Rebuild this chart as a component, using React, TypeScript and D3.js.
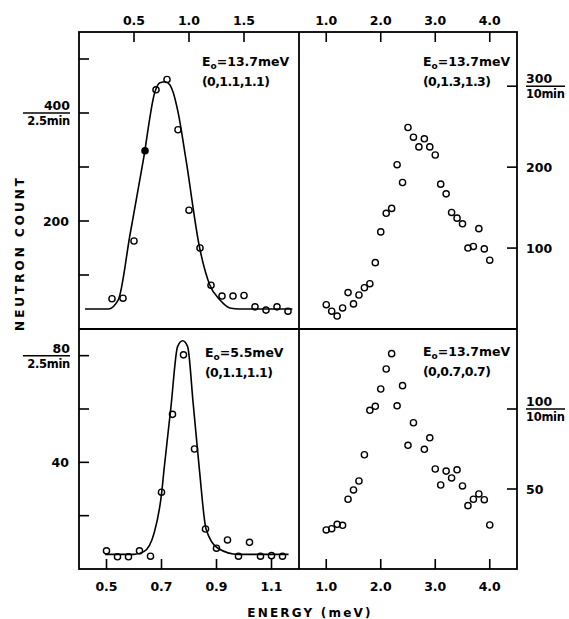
import React from 'react';
import * as d3 from 'd3';

// ---------- data ----------
// top-left: E0=13.7 meV (0,1.1,1.1), counts per 2.5 min
const tlEnergy = [0.3, 0.4, 0.5, 0.6, 0.7, 0.8, 0.9, 1.0, 1.1, 1.2, 1.3, 1.4, 1.5, 1.6, 1.7, 1.8, 1.9];
const tlCount = [56, 57, 163, 330, 443, 462, 369, 220, 150, 81, 61, 61, 62, 41, 35, 41, 33];
const tlFilled = [0.6];
const tlFitEnergy = [0.055, 0.266, 0.357, 0.464, 0.585, 0.69, 0.736, 0.785, 0.827, 0.855, 0.9, 0.973, 1.097, 1.19, 1.28, 1.37, 1.46, 1.94];
const tlFitCount = [37, 37, 54, 175, 313, 439, 456, 458, 452, 439, 402, 313, 150, 81, 54, 39, 37, 37];
const tlXTicks = [0.5, 1.0, 1.5];
const tlYTicks = [100, 200, 300, 400, 500];

// top-right: E0=13.7 meV (0,1.3,1.3), counts per 10 min
const trEnergy = [1.0, 1.1, 1.2, 1.3, 1.4, 1.5, 1.6, 1.7, 1.8, 1.9, 2.0, 2.1, 2.2, 2.3, 2.4, 2.5, 2.6, 2.7, 2.8, 2.9, 3.0, 3.1, 3.2, 3.3, 3.4, 3.5, 3.6, 3.7, 3.8, 3.9, 4.0];
const trCount = [30, 22, 16, 26, 45, 31, 42, 51, 56, 82, 120, 143, 149, 203, 181, 249, 237, 225, 235, 225, 215, 179, 167, 144, 137, 130, 100, 102, 124, 99, 85];
const trXTicks = [1.0, 2.0, 3.0, 4.0];
const trYTicks = [100, 200, 300];

// bottom-left: E0=5.5 meV (0,1.1,1.1), counts per 2.5 min
const blEnergy = [0.5, 0.54, 0.58, 0.62, 0.66, 0.7, 0.74, 0.78, 0.82, 0.86, 0.9, 0.94, 0.98, 1.02, 1.06, 1.1, 1.14];
const blCount = [6.8, 4.6, 4.6, 6.8, 4.8, 28.8, 58, 80.3, 45, 15, 7.8, 10.9, 4.8, 10, 4.8, 5, 4.8];
const blFilled: number[] = [];
const blFitEnergy = [0.495, 0.6, 0.636, 0.673, 0.701, 0.709, 0.734, 0.7585, 0.777, 0.795, 0.815, 0.838, 0.862, 0.905, 0.979, 1.162];
const blFitCount = [5.5, 5.5, 6.5, 13.4, 28.9, 37.1, 60.4, 83.4, 85.6, 83.4, 62.3, 37.1, 15, 7.8, 5.5, 5.5];
const blXTicks = [0.5, 0.7, 0.9, 1.1];
const blYTicks = [20, 40, 60, 80];

// bottom-right: E0=13.7 meV (0,0.7,0.7), counts per 10 min
const brEnergy = [1.0, 1.1, 1.2, 1.3, 1.4, 1.5, 1.6, 1.7, 1.8, 1.9, 2.0, 2.1, 2.2, 2.3, 2.4, 2.5, 2.6, 2.8, 2.9, 3.0, 3.1, 3.2, 3.3, 3.4, 3.5, 3.6, 3.7, 3.8, 3.9, 4.0];
const brCount = [24.4, 25.2, 27.9, 27.3, 43.6, 49.4, 55, 71.4, 99.2, 101.7, 112.5, 125, 134.6, 102, 114.6, 77.3, 91.4, 74.8, 82, 62.5, 52.5, 61.2, 56.9, 62, 51.9, 39.6, 43.6, 46.9, 43.3, 27.5];
const brXTicks = [1.0, 2.0, 3.0, 4.0];
const brYTicks = [50, 100];

// ---------- layout ----------
const W = 569;
const H = 619;
const XL = 79;
const XM = 299;
const XR = 517;
const YT = 32;
const YM = 329;
const YB = 569;
const FONT = "'DejaVu Sans', sans-serif";
const TICK = 10;

const fmt = d3.format('.1f');

type PanelProps = {
  energy: number[];
  count: number[];
  filled?: number[];
  fitE?: number[];
  fitC?: number[];
  xDomain: [number, number];
  yDomain: [number, number];
  xRange: [number, number];
  yRange: [number, number];
  xTicks: number[];
  yTicks: number[];
  xTickSide: 'top' | 'bottom';
  yTickSide: 'left' | 'right';
};

function Panel(p: PanelProps) {
  const x = d3.scaleLinear().domain(p.xDomain).range(p.xRange);
  const y = d3.scaleLinear().domain(p.yDomain).range(p.yRange);
  const edgeY = p.xTickSide === 'top' ? p.yRange[1] : p.yRange[0];
  const edgeX = p.yTickSide === 'left' ? p.xRange[0] : p.xRange[1];
  const dir = p.xTickSide === 'top' ? 1 : -1;
  const hdir = p.yTickSide === 'left' ? 1 : -1;
  let fitPath: string | null = null;
  if (p.fitE && p.fitC) {
    const pts: [number, number][] = p.fitE.map((e, i) => [e, p.fitC![i]]);
    fitPath = d3
      .line<[number, number]>()
      .x((d) => x(d[0]))
      .y((d) => y(d[1]))
      .curve(d3.curveMonotoneX)(pts);
  }
  const filled = p.filled || [];
  return (
    <g>
      {p.xTicks.map((t) => (
        <g key={'xt' + t}>
          <line x1={x(t)} x2={x(t)} y1={edgeY} y2={edgeY + dir * TICK} stroke="#000" strokeWidth={1.6} />
          <text
            x={x(t)}
            y={p.xTickSide === 'top' ? 24.5 : 590.5}
            textAnchor="middle"
            fontSize={12.5}
            fontWeight="bold"
            fontFamily={FONT}
          >
            {fmt(t)}
          </text>
        </g>
      ))}
      {p.yTicks.map((t) => (
        <line
          key={'yt' + t}
          x1={edgeX}
          x2={edgeX + hdir * TICK}
          y1={y(t)}
          y2={y(t)}
          stroke="#000"
          strokeWidth={1.6}
        />
      ))}
      {fitPath && <path d={fitPath} fill="none" stroke="#000" strokeWidth={1.6} />}
      {p.energy.map((e, i) => (
        <circle
          key={'pt' + i}
          cx={x(e)}
          cy={y(p.count[i])}
          r={3.1}
          fill={filled.includes(e) ? '#000' : 'none'}
          stroke="#000"
          strokeWidth={1.4}
        />
      ))}
    </g>
  );
}

function Fraction({ x, y, top, bottom, anchor, x1, x2 }: { x: number; y: number; top: string; bottom: string; anchor: 'start' | 'end'; x1: number; x2: number }) {
  return (
    <g fontFamily={FONT} fontWeight="bold">
      <text x={x} y={y - 3} textAnchor={anchor} fontSize={12.5}>
        {top}
      </text>
      <line x1={x1} x2={x2} y1={y} y2={y} stroke="#000" strokeWidth={1.5} />
      <text x={x} y={y + 12} textAnchor={anchor} fontSize={11.5} letterSpacing={-0.3}>
        {bottom}
      </text>
    </g>
  );
}

function Note({ x, y, e0, hkl }: { x: number; y: number; e0: string; hkl: string }) {
  return (
    <g fontFamily={FONT} fontWeight="bold" fontSize={12.5}>
      <text x={x} y={y}>
        E
        <tspan fontSize={9} dy={3}>
          o
        </tspan>
        <tspan dy={-3}>{'=' + e0 + 'meV'}</tspan>
      </text>
      <text x={x} y={y + 20} letterSpacing={-0.6}>
        {hkl}
      </text>
    </g>
  );
}

export default function App() {
  const yTL = d3.scaleLinear().domain([0, 550]).range([YM, YT]);
  const yTR = d3.scaleLinear().domain([0, 367]).range([YM, YT]);
  const yBL = d3.scaleLinear().domain([0, 90]).range([YB, YM]);
  const yBR = d3.scaleLinear().domain([0, 150]).range([YB, YM]);
  return (
    <svg
      width={W}
      height={H}
      viewBox={`0 0 ${W} ${H}`}
      style={{ position: 'absolute', left: 0, top: 0, background: '#fff' }}
    >
      <rect x={0} y={0} width={W} height={H} fill="#fff" />
      {/* frames */}
      <rect x={XL} y={YT} width={XR - XL} height={YB - YT} fill="none" stroke="#000" strokeWidth={1.8} />
      <line x1={XM} x2={XM} y1={YT} y2={YB} stroke="#000" strokeWidth={1.8} />
      <line x1={XL} x2={XR} y1={YM} y2={YM} stroke="#000" strokeWidth={1.8} />

      <Panel
        energy={tlEnergy}
        count={tlCount}
        filled={tlFilled}
        fitE={tlFitEnergy}
        fitC={tlFitCount}
        xDomain={[0, 2.0]}
        yDomain={[0, 550]}
        xRange={[XL, XM]}
        yRange={[YM, YT]}
        xTicks={tlXTicks}
        yTicks={tlYTicks}
        xTickSide="top"
        yTickSide="left"
      />
      <Panel
        energy={trEnergy}
        count={trCount}
        xDomain={[0.5, 4.5]}
        yDomain={[0, 367]}
        xRange={[XM, XR]}
        yRange={[YM, YT]}
        xTicks={trXTicks}
        yTicks={trYTicks}
        xTickSide="top"
        yTickSide="right"
      />
      <Panel
        energy={blEnergy}
        count={blCount}
        filled={blFilled}
        fitE={blFitEnergy}
        fitC={blFitCount}
        xDomain={[0.4, 1.2]}
        yDomain={[0, 90]}
        xRange={[XL, XM]}
        yRange={[YB, YM]}
        xTicks={blXTicks}
        yTicks={blYTicks}
        xTickSide="bottom"
        yTickSide="left"
      />
      <Panel
        energy={brEnergy}
        count={brCount}
        xDomain={[0.5, 4.5]}
        yDomain={[0, 150]}
        xRange={[XM, XR]}
        yRange={[YB, YM]}
        xTicks={brXTicks}
        yTicks={brYTicks}
        xTickSide="bottom"
        yTickSide="right"
      />

      {/* left axis labels */}
      <Fraction x={70} y={yTL(400)} top="400" bottom="2.5min" anchor="end" x1={23} x2={70} />
      <text x={69} y={yTL(200) + 4.5} textAnchor="end" fontSize={12.5} fontWeight="bold" fontFamily={FONT}>
        200
      </text>
      <Fraction x={70} y={yBL(80)} top="80" bottom="2.5min" anchor="end" x1={23} x2={70} />
      <text x={69} y={yBL(40) + 4.5} textAnchor="end" fontSize={12.5} fontWeight="bold" fontFamily={FONT}>
        40
      </text>

      {/* right axis labels */}
      <Fraction x={526} y={yTR(300)} top="300" bottom="10min" anchor="start" x1={526} x2={565} />
      <text x={526} y={yTR(200) + 4.5} fontSize={12.5} fontWeight="bold" fontFamily={FONT}>
        200
      </text>
      <text x={526} y={yTR(100) + 4.5} fontSize={12.5} fontWeight="bold" fontFamily={FONT}>
        100
      </text>
      <Fraction x={526} y={yBR(100)} top="100" bottom="10min" anchor="start" x1={526} x2={565} />
      <text x={526} y={yBR(50) + 4.5} fontSize={12.5} fontWeight="bold" fontFamily={FONT}>
        50
      </text>

      {/* annotations */}
      <Note x={202} y={66} e0="13.7" hkl="(0,1.1,1.1)" />
      <Note x={423} y={66} e0="13.7" hkl="(0,1.3,1.3)" />
      <Note x={205} y={357} e0="5.5" hkl="(0,1.1,1.1)" />
      <Note x={423} y={356} e0="13.7" hkl="(0,0.7,0.7)" />

      {/* axis titles */}
      <text
        x={310}
        y={617}
        textAnchor="middle"
        fontSize={12}
        fontWeight="bold"
        fontFamily={FONT}
        letterSpacing={2.2}
      >
        ENERGY (meV)
      </text>
      <text
        transform="translate(24,253) rotate(-90)"
        textAnchor="middle"
        fontSize={12}
        fontWeight="bold"
        fontFamily={FONT}
        letterSpacing={3}
      >
        NEUTRON COUNT
      </text>
    </svg>
  );
}
